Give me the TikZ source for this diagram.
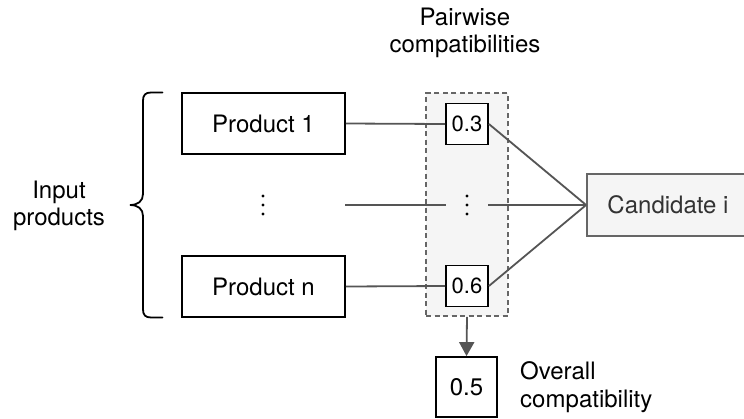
\documentclass[tikz,border=0pt]{standalone}
\usepackage{fontspec}
\setmainfont{TeX Gyre Heros}
\usetikzlibrary{arrows.meta}
\definecolor{linegray}{HTML}{555555}
\definecolor{boxgray}{HTML}{666666}
\definecolor{panel}{HTML}{F5F5F5}
\definecolor{inkgray}{HTML}{333333}
\begin{document}
\begin{tikzpicture}[x=1pt,y=-1pt,
  every node/.style={font=\fontsize{24}{27.6}\selectfont},
  prodbox/.style={draw=black,line width=1.8pt,minimum width=163pt,minimum height=61pt,inner sep=0pt},
  scorebox/.style={draw=black,fill=white,line width=1.8pt,minimum width=42pt,minimum height=41pt,inner sep=0pt,font=\fontsize{22}{25}\selectfont},
  candbox/.style={draw=boxgray,fill=panel,line width=1.8pt,minimum width=162pt,minimum height=62pt,inner sep=0pt,text=inkgray},
  groupbox/.style={draw=boxgray,fill=panel,line width=1.6pt,dash pattern=on 5pt off 3.5pt,minimum width=82pt,minimum height=223pt,inner sep=0pt},
  link/.style={draw=linegray,line width=1.8pt},
  label/.style={align=center,inner sep=0pt},
  dot/.style={circle,fill=black,inner sep=0pt,minimum size=3.4pt}]
\useasboundingbox (0,0) rectangle (744,418);

% pairwise group panel
\node[groupbox] (grp) at (467,204.5) {};

% input products
\node[prodbox] (p1) at (263.5,123.5) {Product 1};
\node[prodbox] (pn) at (263.5,286.5) {Product n};
\node[inner sep=0pt,minimum width=10pt,minimum height=24pt] (dl) at (263,205) {};
\foreach \dy in {-9,0,9} \node[dot] at ([yshift=-\dy pt]dl.center) {};

% pairwise scores
\node[scorebox] (s1) at (467,124) {0.3};
\node[scorebox] (sn) at (467,286) {0.6};
\node[inner sep=0pt,minimum width=42pt,minimum height=24pt] (dm) at (467,205) {};
\foreach \dy in {-9,0,9} \node[dot] at ([yshift=-\dy pt]dm.center) {};

% candidate
\node[candbox] (cand) at (668,205) {Candidate i};

% overall score
\node[draw=black,line width=1.8pt,minimum width=61pt,minimum height=60pt,inner sep=0pt] (ov) at (466.5,387) {0.5};

% labels
\node[label] (pw) at (465,33) {Pairwise\\compatibilities};
\node[label] (inp) at (59,206) {Input\\products};
\node[label,align=left,anchor=west] (ovl) at (520,387) {Overall\\compatibility};

% brace around the inputs
\coordinate (bt) at (162.5,92.5);
\coordinate (bb) at (162.5,317.5);
\coordinate (btip) at (130,205);
\draw[line width=1.8pt,line cap=round] (bt) -- (151,92.5)
  .. controls (145.5,92.5) and (143,95) .. (143,100.5) -- (143,194)
  .. controls (143,201) and (138,205) .. (btip)
  .. controls (138,205) and (143,209) .. (143,216) -- (143,309.5)
  .. controls (143,315) and (145.5,317.5) .. (151,317.5) -- (bb);

% connectors
\coordinate (ml) at (345,205);
\draw[link] (p1.east) -- (s1.west);
\draw[link] (pn.east) -- (sn.west);
\draw[link] (ml) -- (dm.west);
\draw[link] (dm.east) -- (cand.west);
\draw[link] (s1.east) -- (cand.west);
\draw[link] (sn.east) -- (cand.west);
\draw[link,-{Triangle[length=14pt,width=15pt]}] (grp.south) -- (ov.north);
\end{tikzpicture}
\end{document}
